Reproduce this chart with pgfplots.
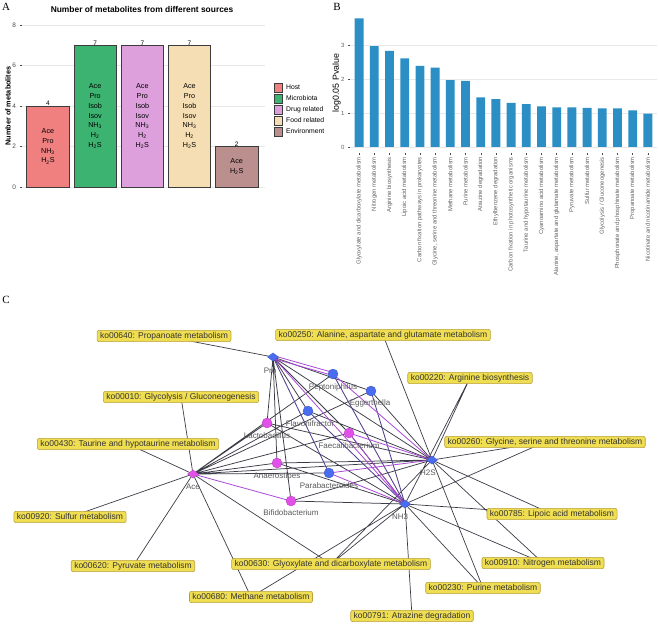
\documentclass[border=0pt]{standalone}
\usepackage{pgfplots}
\pgfplotsset{compat=1.18}
\usepackage{fontspec}
\setmainfont{Liberation Sans}
\newfontfamily\seriffont{Liberation Serif}
\definecolor{cHost}{RGB}{240,128,128}
\definecolor{cMicro}{RGB}{60,179,113}
\definecolor{cDrug}{RGB}{221,160,221}
\definecolor{cFood}{RGB}{245,222,179}
\definecolor{cEnv}{RGB}{188,143,143}
\definecolor{cBarB}{RGB}{43,143,198}
\definecolor{cMag}{RGB}{226,80,234}
\definecolor{cBlue}{RGB}{74,108,240}
\definecolor{cEdge}{RGB}{60,60,72}
\definecolor{cDPur}{RGB}{82,62,140}
\definecolor{cPur}{RGB}{170,72,215}
\definecolor{cBox}{RGB}{240,222,82}
\definecolor{cBoxD}{RGB}{185,160,60}
\definecolor{cTick}{RGB}{77,77,77}
\definecolor{cTickB}{RGB}{100,100,100}
\definecolor{cLine}{RGB}{60,60,60}
\pgfplotsset{
  abar/.style={ybar, bar width=0.9, bar shift=0pt, draw=cLine, line width=0.5pt,
    legend image code/.code={\draw[##1, line width=0.3pt] (0pt,-4.3pt) rectangle (8.6pt,4.3pt);}},
}
\tikzset{
  kbox/.style={fill=cBox, draw=cBoxD, line width=0.6pt, rounded corners=2pt,
    font=\fontsize{8.5}{9}\selectfont, text=black!80, inner xsep=3pt, inner ysep=1.7pt,
    text height=6.2pt, text depth=1.7pt},
  nlab/.style={font=\fontsize{8}{9}\selectfont, text=black!65, inner sep=0pt},
}
\begin{document}
\begin{tikzpicture}
\useasboundingbox (0,0) rectangle (659pt,630pt);
\fill[white] (0,0) rectangle (659pt,630pt);
\node[font=\seriffont\fontsize{11}{11}\selectfont] at (6pt,623pt) {A};
\node[font=\seriffont\fontsize{11}{11}\selectfont] at (337pt,623pt) {B};
\node[font=\seriffont\fontsize{11}{11}\selectfont] at (6pt,330pt) {C};

% ---------------- Panel A ----------------
\begin{axis}[at={(22pt,435pt)}, anchor=south west, scale only axis,
  width=243pt, height=178pt, xmin=0.45, xmax=5.6, ymin=-0.4, ymax=8.4,
  ytick={0,2,4,6,8}, xtick=\empty, ymajorgrids, grid style={gray!18, line width=0.5pt},
  axis line style={draw=none}, tick style={cTick, line width=0.4pt},
  major tick length=2.5pt, tick align=outside, ytick pos=left,
  /pgf/number format/assume math mode=true,
  yticklabel style={font=\fontsize{6.5}{7}\selectfont, text=cTick},
  ylabel={\textbf{Number of metabolites}},
  ylabel style={at={(axis description cs:-0.058,0.5)}, anchor=center, font=\fontsize{7.3}{8}\selectfont},
  title={\textbf{Number of metabolites from different sources}},
  title style={at={(axis description cs:0.494,1.006)}, anchor=center, font=\fontsize{8.4}{9}\selectfont},
  clip=false,
  legend style={draw=none, fill=none, at={(axis description cs:1.035,0.478)}, anchor=west,
    font=\fontsize{6.8}{7}\selectfont, row sep=0.6pt, inner sep=0pt,
    /tikz/every odd column/.append style={column sep=1.5pt}},
  legend cell align=left,
]
\addplot[abar, fill=cHost] coordinates {(1,4)};
\addlegendentry{Host}
\addplot[abar, fill=cMicro] coordinates {(2,7)};
\addlegendentry{Microbiota}
\addplot[abar, fill=cDrug] coordinates {(3,7)};
\addlegendentry{Drug related}
\addplot[abar, fill=cFood] coordinates {(4,7)};
\addlegendentry{Food related}
\addplot[abar, fill=cEnv] coordinates {(5,2)};
\addlegendentry{Environment}
\begin{scope}[every node/.style={font=\fontsize{6.5}{7}\selectfont, inner sep=0pt, anchor=base}]
\node at (axis cs:1,4) {4};
\node at (axis cs:2,7) {7};
\node at (axis cs:3,7) {7};
\node at (axis cs:4,7) {7};
\node at (axis cs:5,2) {2};
\end{scope}
\begin{scope}[every node/.style={font=\fontsize{7.2}{9.7}\selectfont, align=center, inner sep=0pt}]
\node at (axis cs:1,2) {Ace\\Pro\\NH\textsubscript{3}\\H\textsubscript{2}S};
\node at (axis cs:2,3.5) {Ace\\Pro\\Isob\\Isov\\NH\textsubscript{3}\\H\textsubscript{2}\\H\textsubscript{2}S};
\node at (axis cs:3,3.5) {Ace\\Pro\\Isob\\Isov\\NH\textsubscript{3}\\H\textsubscript{2}\\H\textsubscript{2}S};
\node at (axis cs:4,3.5) {Ace\\Pro\\Isob\\Isov\\NH\textsubscript{3}\\H\textsubscript{2}\\H\textsubscript{2}S};
\node at (axis cs:5,1) {Ace\\H\textsubscript{2}S};
\end{scope}
\end{axis}

% ---------------- Panel B ----------------
\begin{axis}[at={(350pt,476.6pt)}, anchor=south west, scale only axis,
  width=307pt, height=141.4pt, xmin=0.4, xmax=20.6, ymin=-0.19, ymax=3.98,
  ytick={0,1,2,3}, xtick={1,...,20},
  xticklabels={Glyoxylate and dicarboxylate metabolism, Nitrogen metabolism, Arginine biosynthesis,
    Lipoic acid metabolism, Carbon fixation pathways in prokaryotes,
    {Glycine, serine and threonine metabolism}, Methane metabolism, Purine metabolism,
    Atrazine degradation, Ethylbenzene degradation, Carbon fixation in photosynthetic organisms,
    Taurine and hypotaurine metabolism, Cyanoamino acid metabolism,
    {Alanine, aspartate and glutamate metabolism}, Pyruvate metabolism, Sulfur metabolism,
    Glycolysis / Gluconeogenesis, Phosphonate and phosphinate metabolism,
    Propanoate metabolism, Nicotinate and nicotinamide metabolism},
  xticklabel style={rotate=90, anchor=east, font=\fontsize{5.9}{6}\selectfont, text=cTickB, inner sep=1.5pt},
  ymajorgrids, grid style={gray!18, line width=0.5pt},
  axis line style={draw=none}, tick style={cTick, line width=0.4pt},
  major tick length=2pt, tick align=outside, ytick pos=left, xtick pos=bottom,
  /pgf/number format/assume math mode=true,
  yticklabel style={font=\fontsize{6}{7}\selectfont, text=cTickB},
  ylabel={log0.05 Pvalue},
  ylabel style={at={(axis description cs:-0.044,0.498)}, anchor=center, font=\fontsize{8.8}{9}\selectfont},
  clip=false,
]
\addplot[ybar, bar width=0.58, bar shift=0pt, fill=cBarB, draw=none] coordinates {
 (1,3.79) (2,2.97) (3,2.83) (4,2.61) (5,2.39) (6,2.34) (7,1.97) (8,1.95) (9,1.46) (10,1.41)
 (11,1.30) (12,1.26) (13,1.20) (14,1.17) (15,1.17) (16,1.15) (17,1.14) (18,1.14) (19,1.08) (20,0.98)};
\end{axis}

% ---------------- Panel C ----------------
\begin{axis}[at={(0pt,0pt)}, anchor=south west, scale only axis,
  width=659pt, height=630pt, xmin=0, xmax=659, ymin=0, ymax=630, y dir=reverse,
  hide axis, clip=false]
% pathway edges
\addplot[cEdge, line width=0.7pt, unbounded coords=jump, mark=none] coordinates {
 (273,357)(164,336) (nan,nan)
 (193,474)(181,397) (nan,nan)
 (193,474)(128,444) (nan,nan)
 (193,474)(70,517) (nan,nan)
 (193,474)(133,566) (nan,nan)
 (193,474)(331,564) (nan,nan)
 (193,474)(251,597) (nan,nan)
 (432,460)(383,335) (nan,nan)
 (432,460)(470,378) (nan,nan)
 (432,460)(545,442) (nan,nan)
 (432,460)(552,514) (nan,nan)
 (432,460)(543,563) (nan,nan)
 (432,460)(483,588) (nan,nan)
 (432,460)(331,564) (nan,nan)
 (405,504)(470,378) (nan,nan)
 (405,504)(545,442) (nan,nan)
 (405,504)(552,514) (nan,nan)
 (405,504)(543,563) (nan,nan)
 (405,504)(483,588) (nan,nan)
 (405,504)(412,616) (nan,nan)
 (405,504)(331,564) (nan,nan)
 (405,504)(251,597)
};
% microbe-metabolite edges (dark)
\addplot[cEdge, line width=0.75pt, unbounded coords=jump, mark=none] coordinates {
 (273,357)(267,423) (nan,nan)
 (273,357)(277,463) (nan,nan)
 (273,357)(291,501) (nan,nan)
 (273,357)(308,411) (nan,nan)
 (273,357)(349,433) (nan,nan)
 (273,357)(371,391) (nan,nan)
 (273,357)(432,460) (nan,nan)
 (193,474)(267,423) (nan,nan)
 (193,474)(308,411) (nan,nan)
 (193,474)(349,433) (nan,nan)
 (193,474)(333,374) (nan,nan)
 (193,474)(371,391) (nan,nan)
 (193,474)(277,463) (nan,nan)
 (193,474)(329,473) (nan,nan)
 (193,474)(432,460) (nan,nan)
 (432,460)(267,423) (nan,nan)
 (432,460)(371,391) (nan,nan)
 (432,460)(308,411) (nan,nan)
 (432,460)(277,463) (nan,nan)
 (432,460)(291,501) (nan,nan)
 (405,504)(291,501) (nan,nan)
 (405,504)(277,463) (nan,nan)
 (405,504)(267,423) (nan,nan)
 (405,504)(349,433)
};
% dark purple edges
\addplot[cDPur, line width=0.85pt, unbounded coords=jump, mark=none] coordinates {
 (273,357)(329,473) (nan,nan)
 (333,374)(405,504) (nan,nan)
 (371,391)(405,504) (nan,nan)
 (308,411)(405,504)
};
% purple edges
\addplot[cPur, line width=0.8pt, unbounded coords=jump, mark=none] coordinates {
 (273,355.5)(333,372.5) (nan,nan)
 (273,358.5)(333,375.5) (nan,nan)
 (273,357)(405,504) (nan,nan)
 (333,374)(432,460) (nan,nan)
 (349,433)(432,460) (nan,nan)
 (329,473)(432,460) (nan,nan)
 (193,474)(291,501) (nan,nan)
 (329,473)(405,504) (nan,nan)
 (349,433)(405,504)
};
% microbe nodes
\addplot[only marks, mark=*, mark size=5pt, mark options={fill=cMag, draw=cMag!80!black, line width=0.3pt}] coordinates {
 (267,423) (349,433) (277,463) (291,501)};
\addplot[only marks, mark=*, mark size=5pt, mark options={fill=cBlue, draw=cBlue!80!black, line width=0.3pt}] coordinates {
 (333,374) (371,391) (308,411) (329,473)};
% metabolite nodes
\addplot[only marks, mark=diamond*, mark size=5.5pt, mark options={rotate=90, fill=cBlue, draw=cBlue!80!black, line width=0.3pt}] coordinates {
 (273,357) (432,460) (405,504)};
\addplot[only marks, mark=diamond*, mark size=5.5pt, mark options={rotate=90, fill=cMag, draw=cMag!80!black, line width=0.3pt}] coordinates {
 (193,474)};
% node labels
\node[nlab] at (axis cs:270,371) {Pro};
\node[nlab] at (axis cs:333,387) {Peptoniphilus};
\node[nlab] at (axis cs:370,403) {Eggerthella};
\node[nlab] at (axis cs:310,424) {Flavonifractor};
\node[nlab] at (axis cs:267,436) {Lactobacillus};
\node[nlab] at (axis cs:349,446) {Faecalibacterium};
\node[nlab] at (axis cs:277,476) {Anaerostipes};
\node[nlab] at (axis cs:329,486) {Parabacteroides};
\node[nlab] at (axis cs:193,487) {Ace};
\node[nlab] at (axis cs:291,513) {Bifidobacterium};
\node[nlab] at (axis cs:428,473) {H2S};
\node[nlab] at (axis cs:400,517) {NH3};
% pathway boxes
\node[kbox] at (axis cs:164,336) {ko00640: Propanoate metabolism};
\node[kbox] at (axis cs:383,335) {ko00250: Alanine, aspartate and glutamate metabolism};
\node[kbox] at (axis cs:470,378) {ko00220: Arginine biosynthesis};
\node[kbox] at (axis cs:181,397) {ko00010: Glycolysis / Gluconeogenesis};
\node[kbox] at (axis cs:128,444) {ko00430: Taurine and hypotaurine metabolism};
\node[kbox] at (axis cs:545,442) {ko00260: Glycine, serine and threonine metabolism};
\node[kbox] at (axis cs:70,517) {ko00920: Sulfur metabolism};
\node[kbox] at (axis cs:552,514) {ko00785: Lipoic acid metabolism};
\node[kbox] at (axis cs:133,566) {ko00620: Pyruvate metabolism};
\node[kbox] at (axis cs:331,564) {ko00630: Glyoxylate and dicarboxylate metabolism};
\node[kbox] at (axis cs:543,563) {ko00910: Nitrogen metabolism};
\node[kbox] at (axis cs:483,588) {ko00230: Purine metabolism};
\node[kbox] at (axis cs:251,597) {ko00680: Methane metabolism};
\node[kbox] at (axis cs:412,616) {ko00791: Atrazine degradation};
\end{axis}
\end{tikzpicture}
\end{document}
